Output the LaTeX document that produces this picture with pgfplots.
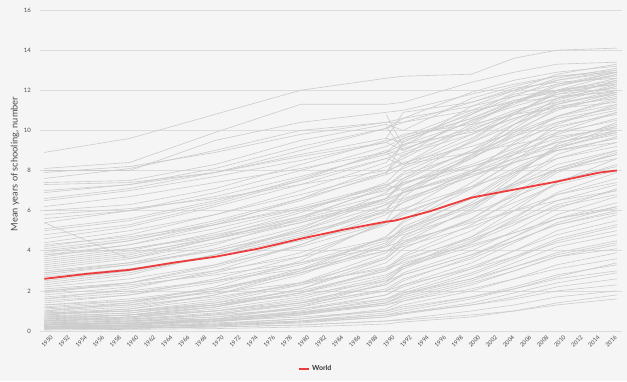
\documentclass[border=0pt]{standalone}
\usepackage{fontspec}
\setmainfont{Lato}
\usepackage{pgfplots}
\usepackage{pgfplotstable}
\pgfplotsset{compat=1.18}
\definecolor{bg}{HTML}{F5F5F5}
\definecolor{cl}{HTML}{CCCCCC}
\definecolor{wred}{HTML}{EE3B3B}
\definecolor{txt}{HTML}{4A4A4A}
\definecolor{gridc}{HTML}{DCDCDC}

\pgfplotstableread{
id 1950 1960 1970 1980 1990 1992 2000 2005 2010 2017
c1 8.9 9.6 10.8 12.0 12.6 12.7 12.8 13.6 14.0 14.1
c2 8.1 8.4 9.9 11.3 11.3 11.4 12.4 12.9 13.3 13.4
c3 8.0 8.0 9.5 10.4 10.9 11.0 11.8 12.3 12.7 13.0
c4 7.6 8.1 9.0 10.0 10.4 10.6 11.2 11.7 12.0 12.3
c5 7.4 7.5 8.3 9.5 10.3 10.0 11.6 12.2 12.7 12.9
c6 7.3 7.4 7.9 8.8 9.6 9.4 10.9 11.5 12.0 12.5
c7 6.9 7.3 8.1 9.2 10.1 10.6 11.9 12.5 12.9 13.2
c8 6.5 7.0 7.7 8.5 9.4 9.0 10.5 11.2 11.8 12.1
c9 6.2 6.7 7.4 8.1 8.9 9.3 9.9 10.6 11.2 11.6
c10 6.0 6.3 7.1 8.3 9.5 9.7 11.0 11.8 12.3 12.7
c11 5.4 6.0 6.9 8.0 9.2 9.6 10.8 11.7 12.5 13.0
c12 5.1 5.6 6.5 7.5 8.6 8.3 9.8 10.6 11.3 11.9
c13 4.6 5.2 6.2 7.3 8.6 8.9 10.0 10.9 11.6 12.2
c14 4.4 5.0 5.8 6.8 7.9 8.4 9.2 9.9 10.7 11.3
c15 4.2 4.8 5.8 7.0 8.4 9.3 10.4 11.4 12.2 12.8
c16 4.0 4.5 5.3 6.2 7.3 7.0 8.7 9.5 10.2 10.8
c17 3.9 4.5 5.4 6.5 7.9 8.8 9.8 10.9 11.8 12.4
c18 3.8 4.3 5.1 6.1 7.2 7.8 8.9 9.7 10.4 11.0
c19 3.6 4.1 4.8 5.7 6.8 7.1 8.2 8.9 9.6 10.2
c20 3.5 4.0 4.9 6.0 7.3 7.6 9.0 10.0 11.0 11.8
c21 3.4 3.9 4.6 5.4 6.4 6.6 7.7 8.4 9.0 9.6
c22 3.3 3.8 4.7 5.9 7.4 8.2 9.6 10.8 11.9 12.6
c23 3.1 3.6 4.4 5.4 6.6 7.4 8.3 9.1 9.9 10.5
c24 3.0 3.4 4.0 4.9 5.9 6.1 7.2 7.9 8.6 9.2
c25 2.8 3.3 4.1 5.2 6.6 7.3 8.6 9.7 10.7 11.5
c26 2.7 3.1 3.7 4.5 5.4 5.6 6.6 7.3 8.0 8.6
c27 2.5 3.0 3.8 4.8 6.1 6.9 8.0 9.0 10.1 10.9
c28 2.4 2.9 3.8 5.0 6.6 7.5 9.0 10.3 11.3 12.0
c29 2.2 2.6 3.3 4.2 5.4 5.9 7.1 8.1 9.1 9.9
c30 2.1 2.4 3.0 3.7 4.6 4.8 5.9 6.7 7.5 8.2
c31 2.0 2.4 3.2 4.3 5.8 6.4 8.0 9.3 10.4 11.2
c32 1.8 2.2 2.9 3.9 5.3 5.8 7.2 8.4 9.5 10.3
c33 1.7 2.0 2.5 3.1 4.0 4.2 5.2 6.0 6.8 7.4
c34 1.5 1.8 2.4 3.3 4.5 5.1 6.3 7.4 8.6 9.4
c35 1.4 1.8 2.6 3.7 5.4 6.0 7.9 9.4 10.7 11.6
c36 1.3 1.6 2.1 2.9 4.0 4.4 5.5 6.4 7.3 8.0
c37 1.2 1.5 2.1 3.0 4.4 5.2 6.6 7.9 9.1 10.0
c38 1.1 1.3 1.7 2.3 3.2 3.6 4.6 5.4 6.2 6.8
c39 1.0 1.4 2.2 3.5 5.5 6.7 8.8 10.3 11.6 12.5
c40 0.9 1.1 1.6 2.4 3.6 4.3 5.6 6.8 8.0 8.8
c41 0.9 1.0 1.3 1.8 2.5 2.8 3.8 4.5 5.3 5.9
c42 0.8 1.0 1.4 2.0 3.0 3.5 4.7 5.7 6.8 7.6
c43 0.7 0.9 1.4 2.3 3.7 4.6 6.0 7.4 8.8 9.7
c44 0.7 0.8 1.0 1.4 2.0 2.3 3.1 3.7 4.4 5.0
c45 0.6 0.7 1.0 1.5 2.3 2.8 3.8 4.7 5.6 6.4
c46 0.6 0.8 1.2 1.9 3.0 3.7 5.0 6.2 7.4 8.3
c47 0.5 0.6 0.8 1.1 1.6 1.9 2.6 3.2 3.8 4.4
c48 0.5 0.6 0.9 1.4 2.3 2.9 4.0 5.0 6.1 7.1
c49 0.4 0.5 0.6 0.9 1.3 1.5 2.1 2.6 3.1 3.6
c50 0.4 0.5 0.7 1.1 1.8 2.2 3.2 4.0 4.8 5.5
c51 0.3 0.4 0.6 1.0 1.8 2.3 3.4 4.4 5.4 6.2
c52 0.3 0.35 0.5 0.7 1.0 1.2 1.7 2.1 2.6 3.0
c53 0.3 0.4 0.5 0.9 1.4 1.8 2.6 3.4 4.2 4.8
c54 0.2 0.25 0.35 0.5 0.8 0.9 1.3 1.6 2.0 2.3
c55 0.2 0.3 0.5 0.8 1.4 1.8 2.8 3.6 4.5 5.2
c56 0.2 0.25 0.4 0.6 1.0 1.3 2.0 2.6 3.3 3.9
c57 0.1 0.15 0.2 0.3 0.5 0.55 0.8 1.0 1.3 1.6
c58 0.1 0.15 0.25 0.4 0.7 0.9 1.4 1.9 2.4 2.9
c59 0.15 0.2 0.35 0.6 1.1 1.5 2.3 3.0 3.7 4.3
c60 0.1 0.12 0.2 0.3 0.5 0.6 1.0 1.3 1.7 2.0
c61 nan nan nan nan 10.8 9.2 11.2 12.0 12.8 13.3
c62 nan nan nan nan 9.6 10.9 11.4 12.1 12.4 12.6
c63 nan nan nan nan 8.9 8.3 10.2 11.0 11.6 12.0
c64 nan nan nan nan 10.2 9.0 10.5 11.3 12.2 12.9
c65 nan nan nan nan 7.8 9.5 10.6 11.5 11.9 12.3
c66 7.9 8.2 8.9 9.8 10.4 10.4 11.0 11.4 11.7 11.9
c67 7.0 7.3 7.9 8.7 9.4 9.8 10.3 10.8 11.1 11.4
c68 6.6 7.1 7.9 9.0 10.1 10.4 11.4 12.0 12.5 12.9
c69 5.8 6.1 6.6 7.3 8.0 8.3 8.9 9.3 9.7 10.1
c70 5.0 5.5 6.4 7.6 8.9 9.6 10.6 11.4 12.0 12.4
c71 4.8 5.3 6.3 7.5 9.0 8.7 10.8 11.9 12.6 13.1
c72 4.3 4.7 5.3 6.1 7.0 7.4 8.2 8.8 9.4 9.9
c73 3.7 4.3 5.3 6.6 8.2 8.6 10.3 11.4 12.3 12.9
c74 3.2 3.7 4.6 5.7 7.1 7.3 8.8 9.8 10.6 11.1
c75 2.9 3.4 4.3 5.6 7.2 7.9 9.4 10.5 11.5 12.3
c76 2.6 3.0 3.7 4.7 6.0 6.4 7.7 8.6 9.4 10.0
c77 2.3 2.8 3.8 5.1 6.9 7.6 9.5 10.8 12.0 12.8
c78 1.9 2.4 3.3 4.6 6.3 6.9 8.6 9.9 11.1 11.9
c79 1.6 2.1 3.0 4.3 6.0 7.0 8.7 10.1 11.4 12.2
c80 1.0 1.3 2.0 3.1 4.7 5.4 7.1 8.5 9.9 10.9
c81 0.8 1.1 1.8 3.0 4.7 5.5 7.4 8.8 10.3 11.3
c82 0.6 0.8 1.3 2.1 3.4 4.1 5.6 6.9 8.1 9.0
c83 0.5 0.7 1.2 2.1 3.6 4.4 6.1 7.7 9.3 10.4
c84 0.4 0.5 0.8 1.4 2.5 3.1 4.4 5.6 6.9 7.9
c85 0.35 0.45 0.7 1.2 2.0 2.5 3.7 4.7 5.8 6.7
c86 0.25 0.3 0.5 0.9 1.6 2.0 3.1 4.0 5.0 5.8
c87 0.2 0.3 0.6 1.2 2.4 3.2 4.7 6.0 7.4 8.6
c88 0.15 0.2 0.3 0.5 0.9 1.1 1.7 2.2 2.8 3.3
c89 1.3 1.5 1.9 2.4 3.1 3.4 4.3 4.9 5.6 6.1
c90 2.0 2.3 2.8 3.4 4.2 4.5 5.4 6.0 6.5 7.0
c91 5.4 3.6 4.6 5.6 6.6 6.9 7.9 8.6 9.2 9.8
c92 0.12 0.15 0.25 0.45 0.8 1.0 1.6 2.1 2.7 3.4
c93 0.25 0.3 0.45 0.8 1.3 1.6 2.4 3.0 3.7 4.1
c94 0.35 0.4 0.6 0.95 1.5 1.9 2.9 3.7 4.6 5.3
c95 0.45 0.55 0.85 1.3 2.1 2.6 3.6 4.5 5.3 6.0
c96 0.55 0.7 1.1 1.7 2.7 3.3 4.5 5.5 6.5 7.3
c97 0.65 0.8 1.2 1.9 3.1 3.8 5.3 6.6 7.9 8.9
c98 0.75 0.9 1.3 1.9 2.8 3.2 4.2 4.9 5.6 6.2
c99 0.85 1.0 1.5 2.4 3.9 4.7 6.4 7.8 9.2 10.2
c100 0.95 1.2 1.8 2.8 4.3 5.0 6.7 8.0 9.0 9.6
c101 1.15 1.4 2.0 2.9 4.2 4.9 6.2 7.3 8.3 9.0
c102 0.05 0.08 0.12 0.2 0.35 0.45 0.7 1.0 1.4 1.8
c103 0.18 0.22 0.3 0.45 0.7 0.85 1.3 1.7 2.2 2.6
c104 0.3 0.38 0.55 0.85 1.4 1.7 2.5 3.2 3.9 4.5
c105 0.5 0.65 1.0 1.6 2.6 3.2 4.4 5.3 6.3 7.0
c106 1.6 1.9 2.5 3.4 4.6 5.0 6.3 7.2 8.1 8.8
c107 2.9 3.3 4.0 5.0 6.3 6.5 7.9 8.8 9.8 10.6
c108 3.8 4.1 4.7 5.5 6.5 6.9 7.8 8.4 9.0 9.4
c109 4.1 4.6 5.5 6.6 7.8 8.1 9.4 10.3 11.1 11.7
c110 5.6 6.0 6.7 7.7 8.8 9.1 10.1 10.8 11.4 11.8
}\rawdata
\pgfplotstabletranspose[colnames from=id, input colnames to=year]{\countrydata}{\rawdata}

\begin{document}
\begin{tikzpicture}[x=1bp,y=1bp]
\fill[bg] (0,0) rectangle (627,381);
\begin{axis}[
  at={(40bp,50bp)}, anchor=south west, scale only axis,
  width=582bp, height=321bp,
  xmin=1949.5, xmax=2017.6, ymin=0, ymax=16,
  xtick={1950,1952,...,2016}, ytick={0,2,...,16},
  /pgf/number format/1000 sep={},
  /pgf/number format/assume math mode=true,
  ymajorgrids, grid style={gridc, line width=0.6bp},
  axis line style={draw=none},
  major tick length=0pt,
  xticklabel style={rotate=45, anchor=north east, font=\fontsize{5.8}{6.5}\selectfont, text=txt, inner sep=0pt, yshift=-7bp, xshift=1.5bp},
  yticklabel style={font=\fontsize{6}{7}\selectfont, text=txt, inner sep=0pt, xshift=-9bp},
  ylabel={Mean years of schooling, number},
  ylabel style={font=\fontsize{9.3}{10}\selectfont, text=txt, at={(axis description cs:-0.043,0.52)}, anchor=center},
  legend style={at={(axis description cs:0.474,-0.118)}, anchor=center, draw=none, fill=none, font=\bfseries\fontsize{7}{8}\selectfont, text=black!80},
  legend image code/.code={\draw[#1] (0bp,0bp) -- (10bp,0bp);},
  clip=false,
]
\pgfplotsinvokeforeach{1,...,110}{
  \addplot[cl, line width=0.6bp, forget plot] table[x=year, y=c#1] {\countrydata};
}
\addplot[wred, line width=1.8bp] coordinates {
(1950,2.6) (1955,2.85) (1960,3.05) (1965,3.4) (1970,3.7) (1975,4.1) (1980,4.6) (1985,5.05) (1990,5.45) (1991,5.5) (1995,5.95) (2000,6.65) (2005,7.05) (2010,7.45) (2015,7.9) (2017,8.0)
};
\addlegendentry{World}
\end{axis}
\end{tikzpicture}
\end{document}
